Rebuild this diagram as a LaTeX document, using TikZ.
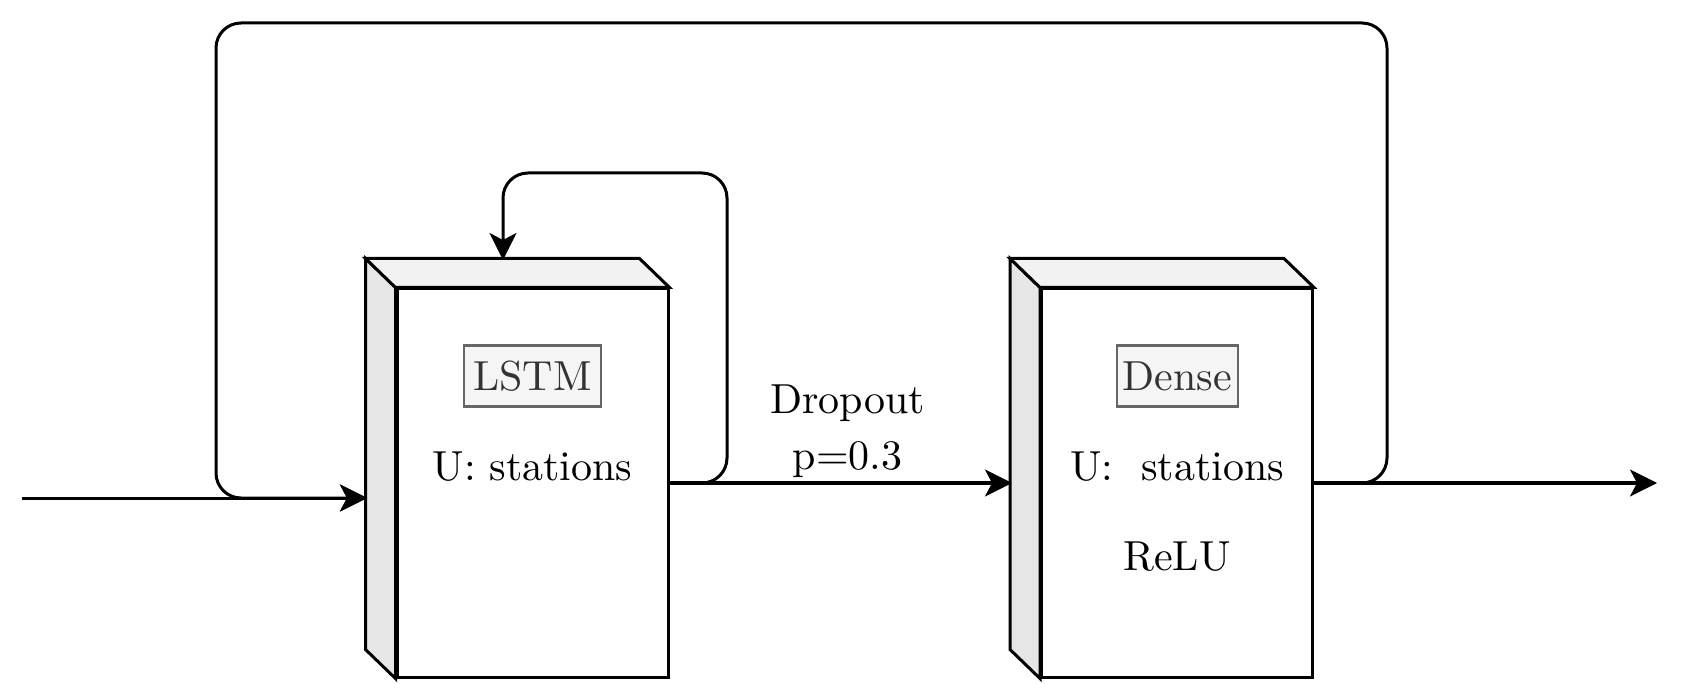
\documentclass[tikz,border=0pt]{standalone}
\usepackage{fontspec}
\newfontfamily\tenrm{lmroman10-regular.otf}
\usetikzlibrary{arrows.meta,calc}
\definecolor{sideface}{HTML}{E6E6E6}
\definecolor{topface}{HTML}{F2F2F2}
\definecolor{lblfill}{HTML}{F5F5F5}
\definecolor{lbldraw}{HTML}{666666}
\definecolor{lbltext}{HTML}{333333}
\begin{document}
\begin{tikzpicture}[x=0.5pt,y=-0.5pt,
  every node/.style={font=\tenrm\fontsize{21}{28}\selectfont},
  front/.style={draw,line width=1.5pt,fill=white,minimum width=135.5pt,minimum height=194pt,inner sep=0pt},
  face/.style={draw,line width=1.5pt,line join=miter},
  lbl/.style={draw=lbldraw,line width=1.2pt,fill=lblfill,text=lbltext,minimum height=30.5pt,inner xsep=0pt,inner ysep=0pt},
  conn/.style={line width=1.5pt,rounded corners=12.5pt},
  tip/.style={-{Stealth[length=13.5pt,width=13.5pt,inset=3.5pt]}},
  plain/.style={inner sep=0pt}]
\useasboundingbox (0,0) rectangle (1683,684);
% LSTM block
\node[front] (lstm) at (532.5,483) {};
\draw[face,fill=sideface] ($(lstm.north west)+(-30,-29)$) -- (lstm.north west) -- (lstm.south west) -- ($(lstm.south west)+(-30,-29)$) -- cycle;
\draw[face,fill=topface] ($(lstm.north west)+(-30,-29)$) -- ($(lstm.north east)+(-30,-29)$) -- (lstm.north east) -- (lstm.north west) -- cycle;
\node[lbl,minimum width=68.5pt] (lstml) at (532.5,376) {LSTM};
\node[plain] (lstmu) at (532.5,467) {U: stations};
% Dense block
\node[front] (dense) at (1177,483) {};
\draw[face,fill=sideface] ($(dense.north west)+(-30,-29)$) -- (dense.north west) -- (dense.south west) -- ($(dense.south west)+(-30,-29)$) -- cycle;
\draw[face,fill=topface] ($(dense.north west)+(-30,-29)$) -- ($(dense.north east)+(-30,-29)$) -- (dense.north east) -- (dense.north west) -- cycle;
\node[lbl,minimum width=60.5pt] (densel) at (1177.5,376) {Dense};
\node[plain] (denseu) at (1177,467) {U:\ \ stations};
\node[plain] (relu) at (1177,557) {ReLU};
% dropout label
\node[plain,align=center] (drop) at (847.5,431) {Dropout\\p=0.3};
% connection points
\coordinate (in) at (22,498);
\coordinate (lstmin) at (367,498);
\coordinate (lstmtop) at (503,260);
\coordinate (densein) at (1012,483);
\coordinate (out) at (1657,483);
% connectors
\draw[conn,tip] (in) -- (lstmin);
\draw[conn,tip] (dense.east) -- (1387,483) -- (1387,23) -- (216,23) -- (216,498) -- (lstmin);
\draw[conn,tip] (lstm.east) -- (727,483) -- (727,173) -- (503,173) -- (lstmtop);
\draw[conn,tip] (lstm.east) -- (densein);
\draw[conn,tip] (dense.east) -- (out);
\end{tikzpicture}
\end{document}
